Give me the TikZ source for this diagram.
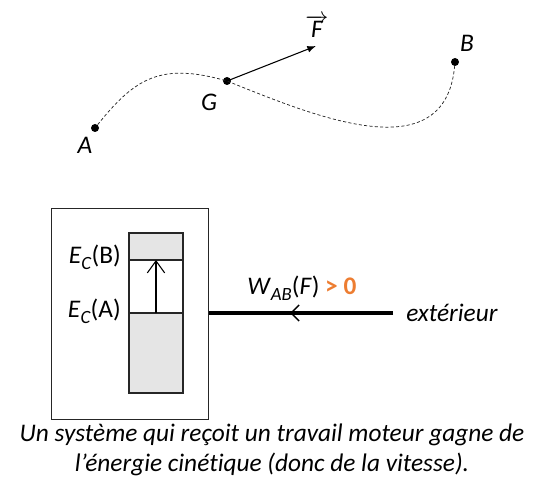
\documentclass[tikz,border=0pt]{standalone}
\usepackage{fontspec}
\setmainfont{Carlito}[Ligatures=NoCommon]
\usetikzlibrary{arrows.meta,positioning,decorations.markings}
\definecolor{workorange}{RGB}{237,125,49}
\tikzset{
  dot/.style={circle,fill=black,inner sep=0pt,minimum size=6pt},
  lbl/.style={font=\itshape\fontsize{19}{21}\selectfont,inner sep=0pt},
  txt/.style={font=\fontsize{19}{21}\selectfont,inner sep=0pt},
  traj/.style={dash pattern=on 2.3pt off 1.7pt,line width=0.55pt,draw=black!85},
  force/.style={-{Latex[length=6.5pt,width=5pt]},line width=0.8pt},
  frame/.style={draw=black!85,line width=0.8pt},
  level/.style={draw=black!85,line width=0.8pt,fill=black!10},
  rise/.style={-{Straight Barb[length=9pt,width=13pt]},line width=0.8pt},
  work/.style={line width=2.8pt,
    postaction={decorate,decoration={markings,
      mark=at position 0.56 with {\arrow[line width=1.1pt]{Straight Barb[length=6pt,width=12pt]}}}}},
}
\newcommand{\sbt}[1]{\raisebox{-4.5pt}{\fontsize{14}{14}\selectfont\textit{#1}}}

\begin{document}
\begin{tikzpicture}[x=0.75pt,y=-0.75pt]
  \useasboundingbox (0,0) rectangle (545,481);

  % trajectory of G between A and B
  \node[dot] (A) at (95,128) {};
  \node[dot] (G) at (227,81) {};
  \node[dot] (B) at (455,62) {};
  \coordinate (Ftip) at (316,46);
  \draw[traj] (A) .. controls (135,78) and (161,62) .. (G.center)
    .. controls (312,115) and (445,172) .. (B);
  \draw[force] (G.center) -- (Ftip);

  \node[lbl,anchor=base] (labA) at (85,153) {A};
  \node[lbl,anchor=base] (labG) at (209,111) {G};
  \node[lbl,anchor=base] (labB) at (467,52) {B};
  \node[lbl,anchor=base] (labF) at (317,38) {$\overrightarrow{\mbox{\textit{F}}}$};

  % energy balance of the system
  \node[frame,anchor=north west,inner sep=0pt,
    minimum width=117.75pt,minimum height=158.25pt] (sys) at (51,208) {};
  \draw[level] (129,233) rectangle (183,393);
  \draw[frame,fill=white] (129,260) rectangle (183,313);
  \coordinate (ecB) at (156,260);
  \coordinate (ecA) at (156,313);
  \draw[rise] (ecA) -- (ecB);

  \node[txt,anchor=base east] (lecB) at (121,263) {\textit{E}\sbt{C}(B)};
  \node[txt,anchor=base east] (lecA) at (121,317) {\textit{E}\sbt{C}(A)};

  \coordinate (ext) at (393,313);
  \draw[work] (ext) -- (sys.east |- ext);
  \node[txt,anchor=base west] (wab) at (247,294)
    {\textit{W}\sbt{AB}(\textit{F}) {\color{workorange}\textbf{> 0}}};
  \node[lbl,anchor=base west] (lext) at (406,321) {extérieur};

  \node[lbl,align=center,anchor=base] (cap) at (272,471)
    {Un système qui reçoit un travail moteur gagne de\\[1pt]
     l’énergie cinétique (donc de la vitesse).};
\end{tikzpicture}
\end{document}
